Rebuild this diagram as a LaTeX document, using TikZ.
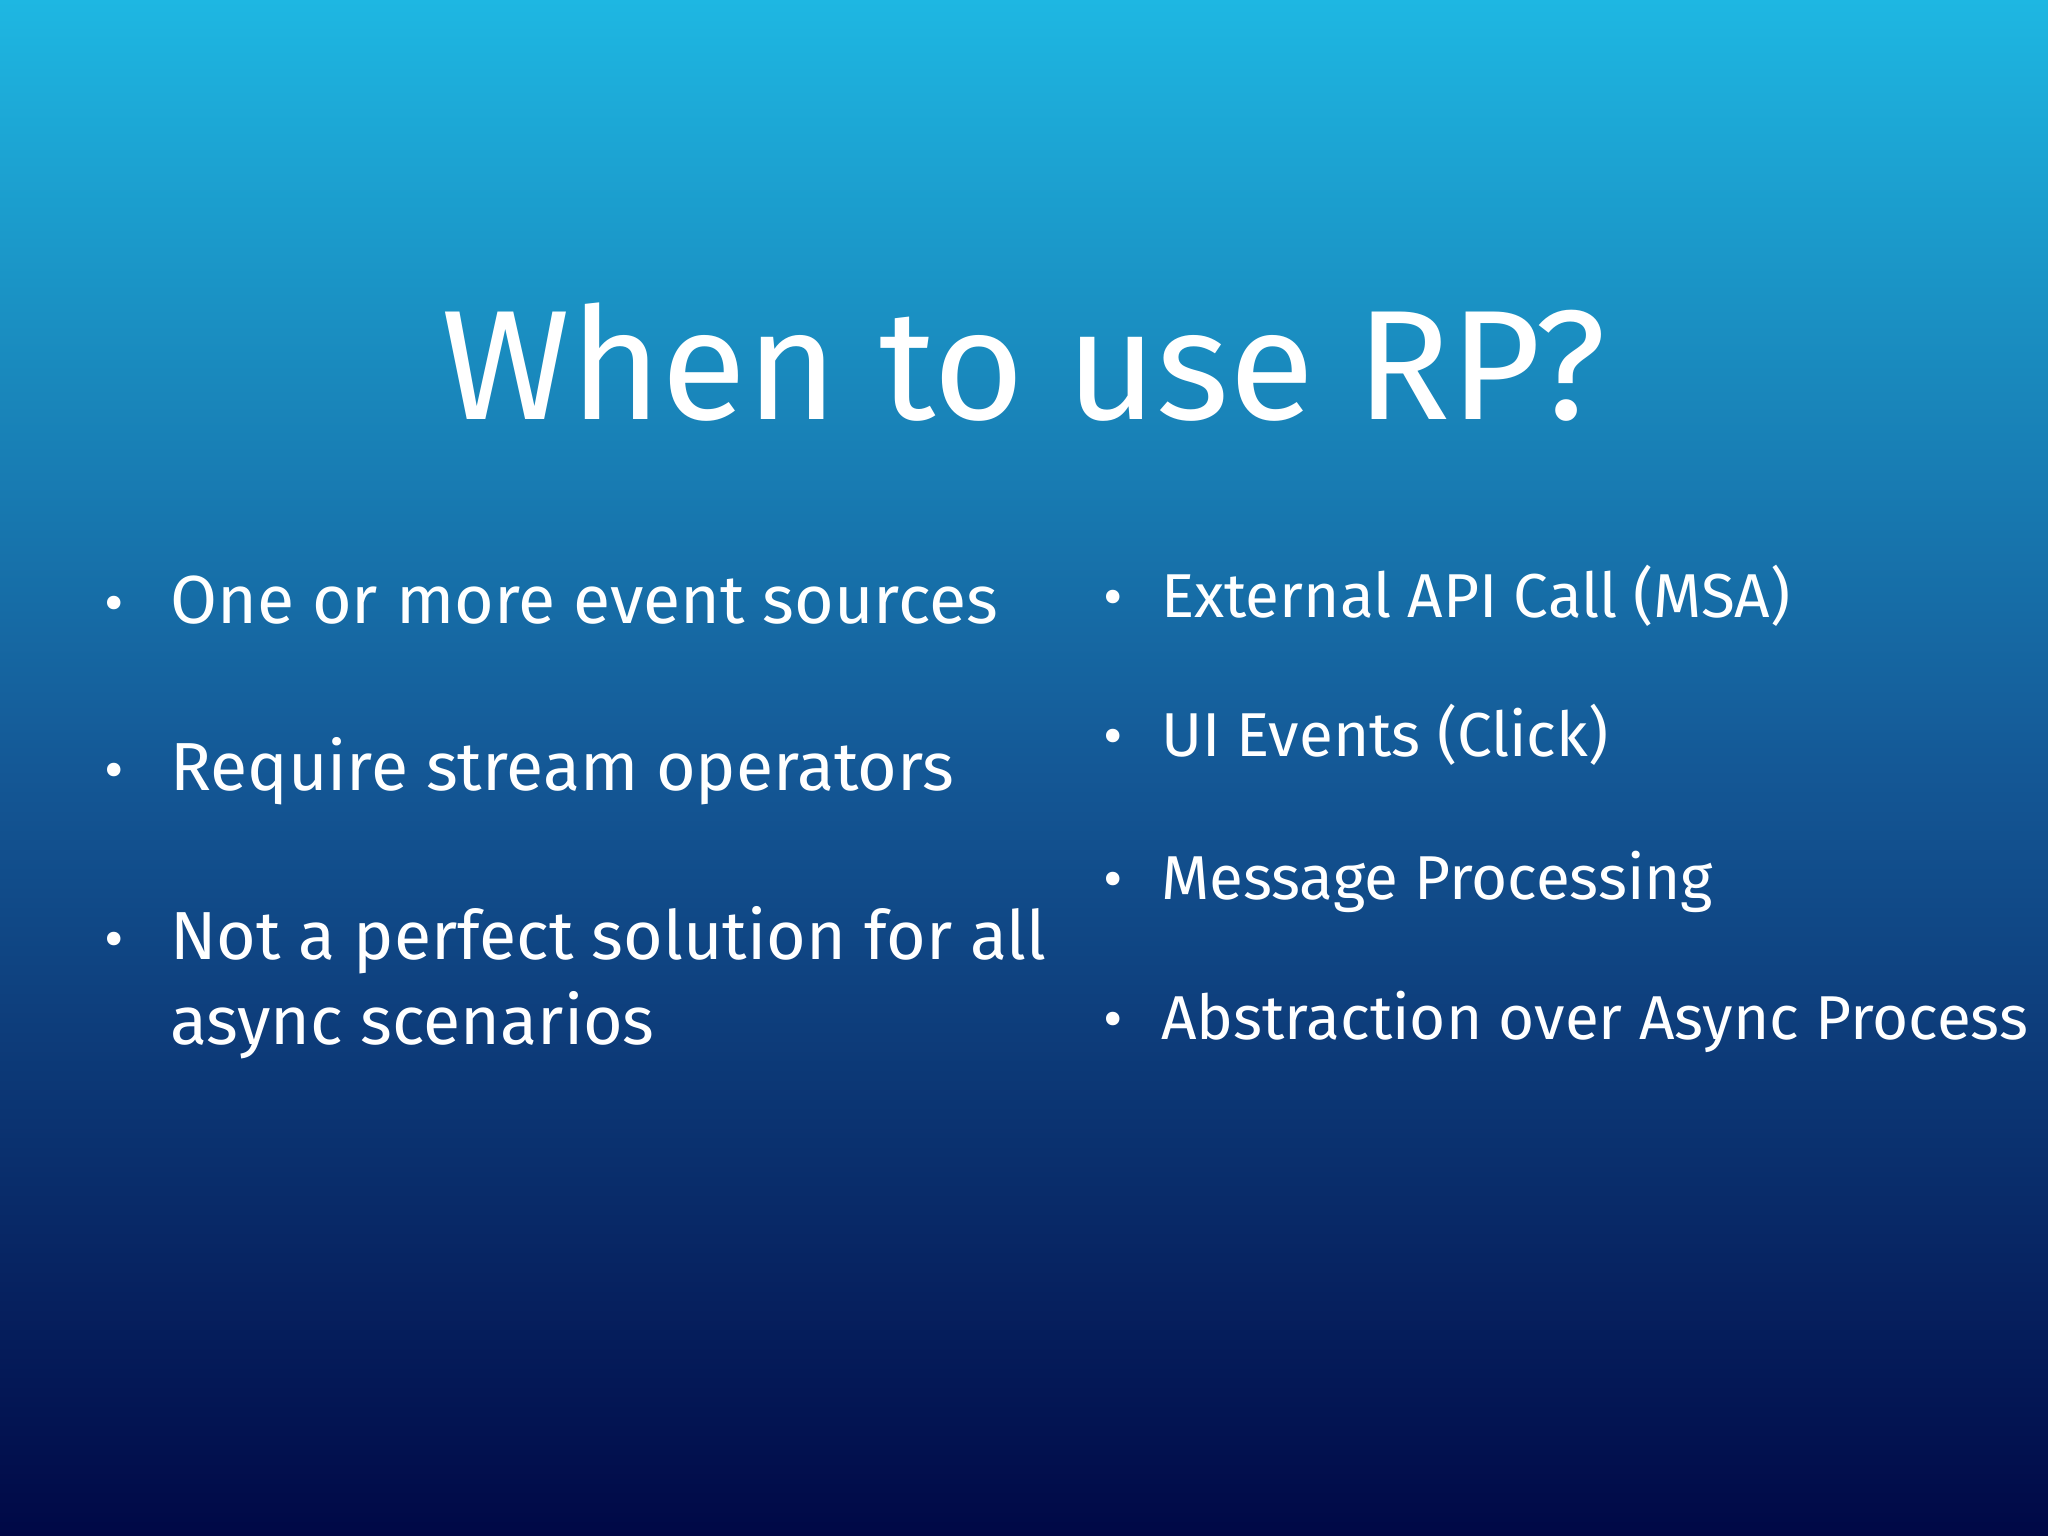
\documentclass[tikz,border=0pt]{standalone}
\usepackage{fontspec}
\setmainfont{Fira Sans}
\definecolor{topc}{RGB}{30,183,226}
\definecolor{midc}{RGB}{20,88,150}
\definecolor{botc}{RGB}{0,8,70}
\tikzset{item/.style={anchor=base west,text=white,inner sep=0pt,font=\fontsize{68}{84}\selectfont},
 ritem/.style={item,font=\fontsize{62}{76}\selectfont},
 dot/.style={anchor=base,text=white,inner sep=0pt,font=\fontsize{60}{70}\selectfont}}
\begin{document}
\begin{tikzpicture}[x=1pt,y=1pt]
\shade[top color=topc,bottom color=botc,middle color=midc] (0,0) rectangle (2048,1536);
\useasboundingbox (0,0) rectangle (2048,1536);
\node[anchor=base,text=white,inner sep=0pt,font=\fontsize{156}{180}\selectfont] (title) at (1024,1116) {When to use RP?};
\node[dot] (b1) at (114,912) {•};
\node[item] (l1) at (170,912) {One or more event sources};
\node[dot] (b2) at (114,745) {•};
\node[item] (l2) at (170,745) {Require stream operators};
\node[dot] (b3) at (114,576) {•};
\node[item] (l3) at (170,576) {Not a perfect solution for all};
\node[item] (l3b) at (170,491) {async scenarios};
\node[dot] (r1b) at (1113,918) {•};
\node[ritem] (r1) at (1161,918) {External API Call (MSA)};
\node[dot] (r2b) at (1113,779) {•};
\node[ritem] (r2) at (1161,779) {UI Events (Click)};
\node[dot] (r3b) at (1113,636) {•};
\node[ritem] (r3) at (1161,636) {Message Processing};
\node[dot] (r4b) at (1113,496) {•};
\node[ritem] (r4) at (1161,496) {Abstraction over Async Process};
\end{tikzpicture}
\end{document}
